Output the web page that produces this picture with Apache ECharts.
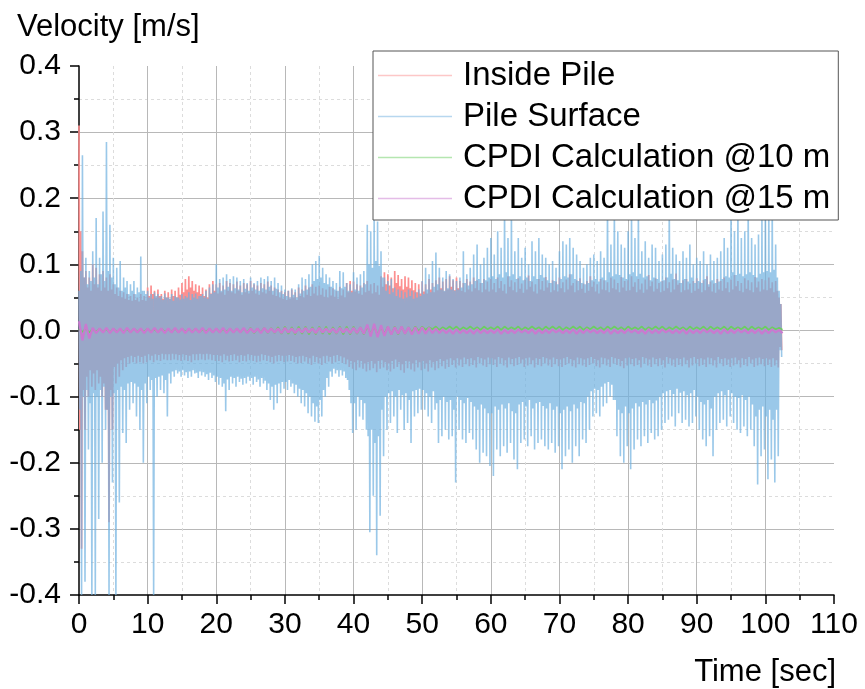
<!DOCTYPE html>
<html>
<head>
<meta charset="utf-8">
<script src="https://cdn.jsdelivr.net/npm/echarts@6/dist/echarts.min.js"></script>
<style>
  html, body { margin: 0; padding: 0; background: #fff; }
  #container1 { width: 865px; height: 689px; }
</style>
</head>
<body>
<div id="container1"></div>
<script>
// velocities in mm/s, read per half second window:
// peak = tallest spike in the window, band = edge of the dense part of the trace
var STEP = 0.5;
var surfacePeakHi = [
  60,265,110,90,120,170,110,180,285,160, 110,95,105,80,75,70,75,65,112,60,
  60,55,58,55,52,56,50,55,52,50, 55,52,58,55,56,52,55,60,65,70,
  100,78,80,85,78,82,80,75,78,72, 80,72,75,80,78,82,75,80,72,68,
  62,60,64,62,70,80,78,85,100,105, 113,95,85,80,75,72,90,88,72,70,
  88,80,85,90,160,150,168,165,120,80, 75,78,65,62,60,58,62,60,58,62,
  75,95,85,105,118,95,80,90,85,78, 75,80,120,85,95,115,130,100,110,125,
  140,115,150,125,190,140,185,120,140,110, 125,100,135,120,140,115,110,100,105,95,
  120,135,130,140,125,115,105,95,100,110, 115,105,120,110,190,130,185,150,130,125,
  150,180,140,185,120,135,110,130,125,105, 115,130,190,125,115,105,120,110,130,100,
  110,105,120,100,115,105,110,120,140,125, 190,150,185,140,150,190,140,130,145,170,
  190,185,195,130,60
];
var surfacePeakLo = [
  -400,-380,-180,-400,-400,-285,-200,-150,-400,-230, -400,-260,-155,-170,-120,-110,-130,-150,-200,-110,
  -90,-400,-100,-90,-95,-130,-80,-70,-65,-70, -68,-72,-70,-65,-72,-68,-70,-75,-72,-78,
  -82,-85,-122,-90,-80,-85,-78,-82,-80,-76, -82,-78,-85,-80,-90,-105,-120,-110,-95,-88,
  -90,-85,-95,-100,-110,-115,-125,-130,-138,-140, -130,-100,-85,-70,-65,-70,-68,-72,-90,-155,
  -150,-130,-135,-150,-305,-250,-340,-280,-190,-150, -140,-130,-155,-120,-150,-140,-170,-130,-125,-120,
  -120,-130,-140,-120,-170,-160,-150,-165,-160,-230, -150,-165,-170,-155,-165,-180,-200,-185,-190,-205,
  -220,-180,-190,-175,-185,-170,-195,-210,-170,-165, -175,-160,-180,-170,-165,-175,-180,-170,-185,-175,
  -210,-190,-180,-200,-175,-190,-165,-170,-150,-130, -125,-130,-115,-110,-100,-105,-160,-190,-200,-175,
  -210,-180,-165,-175,-160,-170,-155,-165,-160,-150, -140,-135,-130,-145,-125,-140,-135,-145,-140,-130,
  -150,-165,-175,-160,-190,-150,-140,-135,-145,-130, -140,-150,-155,-145,-160,-150,-175,-233,-190,-180,
  -225,-195,-230,-190,-40
];
var surfaceBandHi = [
  90,80,70,75,80,70,85,75,90,80, 70,65,60,65,55,60,55,58,60,55,
  50,48,52,50,46,50,48,45,50,47, 48,50,46,50,48,52,50,48,55,58,
  65,60,62,66,60,64,62,58,63,60, 65,62,60,64,62,66,60,63,58,55,
  52,50,54,50,56,60,62,66,75,78, 80,72,70,66,62,60,64,66,60,58,
  62,60,65,70,100,95,105,98,80,60, 55,58,52,50,48,50,52,48,50,52,
  55,62,58,66,70,62,60,64,62,60, 62,65,72,68,70,75,78,72,76,80,
  82,78,85,80,88,82,85,78,82,76, 80,75,82,78,84,80,76,72,75,70,
  78,82,80,85,78,75,72,70,72,76, 78,74,80,76,88,82,85,84,80,78,
  85,88,82,86,80,82,76,80,78,74, 76,80,86,78,76,72,78,74,80,72,
  75,72,78,70,76,72,74,78,82,80, 88,84,86,82,85,88,84,80,86,88,
  90,88,92,80,40
];
var surfaceBandLo = [
  -120,-100,-90,-110,-95,-100,-90,-85,-120,-100, -95,-90,-85,-90,-80,-78,-80,-85,-90,-80,
  -70,-75,-72,-70,-68,-75,-65,-62,-60,-62, -60,-63,-62,-60,-64,-62,-63,-66,-64,-68,
  -70,-72,-80,-74,-70,-72,-70,-73,-72,-70, -72,-70,-74,-72,-76,-80,-85,-82,-80,-78,
  -78,-75,-80,-82,-88,-90,-95,-100,-110,-115, -105,-90,-72,-62,-58,-60,-60,-62,-75,-110,
  -110,-100,-105,-110,-160,-150,-170,-160,-120,-100, -95,-92,-100,-90,-98,-95,-105,-92,-90,-88,
  -90,-95,-100,-92,-110,-105,-100,-108,-105,-120, -100,-105,-110,-102,-108,-115,-120,-112,-118,-125,
  -125,-115,-120,-112,-118,-110,-122,-125,-112,-108, -115,-105,-118,-110,-108,-114,-118,-110,-120,-115,
  -125,-120,-115,-122,-112,-118,-108,-110,-100,-92, -88,-90,-85,-80,-78,-82,-105,-120,-125,-115,
  -125,-118,-110,-115,-108,-112,-105,-110,-106,-100, -95,-92,-90,-96,-88,-94,-92,-98,-95,-90,
  -100,-108,-112,-105,-118,-100,-95,-92,-98,-90, -95,-100,-102,-98,-105,-100,-112,-130,-120,-115,
  -130,-120,-135,-120,-30
];
var insidePeakHi = [
  310,120,90,80,100,95,85,90,80,85, 70,65,60,58,55,52,55,50,55,52,
  65,68,60,62,55,60,58,62,60,65, 72,78,82,75,70,68,65,62,70,75,
  70,72,68,75,72,70,74,68,72,70, 75,70,68,72,70,74,68,65,62,60,
  58,60,62,58,65,62,68,65,70,66, 68,64,62,66,64,60,66,62,72,75,
  74,70,68,72,75,70,72,68,82,88, 85,80,90,84,78,82,80,76,72,70,
  74,70,78,72,76,80,74,78,82,76, 80,75,72,78,74,80,76,72,78,74,
  78,72,80,75,70,82,76,73,79,71, 77,83,74,70,78,75,81,72,76,74,
  80,73,77,85,72,76,79,71,75,82, 74,70,78,76,73,80,77,72,81,75,
  76,82,73,78,71,77,84,74,79,72, 75,80,73,77,86,72,76,78,71,75,
  79,73,76,82,74,71,78,75,80,73, 77,84,75,72,79,76,73,81,74,78,
  76,80,73,75,50
];
var insidePeakLo = [
  -330,-150,-100,-85,-90,-80,-100,-120,-290,-150, -80,-70,-60,-55,-50,-48,-50,-48,-50,-48,
  -45,-48,-45,-46,-44,-45,-45,-44,-45,-46, -45,-46,-48,-45,-45,-44,-45,-44,-45,-46,
  -46,-48,-45,-47,-46,-45,-48,-46,-47,-45, -46,-48,-47,-45,-46,-48,-50,-47,-46,-48,
  -47,-46,-48,-50,-49,-47,-50,-52,-48,-50, -52,-49,-47,-50,-48,-46,-49,-51,-55,-58,
  -60,-56,-58,-62,-60,-57,-63,-58,-56,-60, -62,-58,-55,-60,-64,-57,-59,-62,-56,-60,
  -58,-62,-56,-60,-57,-54,-58,-55,-52,-56, -53,-55,-51,-54,-52,-56,-50,-53,-55,-51,
  -52,-55,-50,-53,-56,-51,-54,-52,-50,-55, -53,-51,-56,-52,-54,-50,-53,-55,-51,-54,
  -55,-52,-50,-54,-56,-51,-53,-55,-52,-50, -54,-56,-51,-53,-55,-50,-52,-54,-57,-53,
  -51,-54,-52,-56,-50,-53,-55,-51,-54,-52, -56,-50,-53,-55,-52,-54,-51,-56,-53,-50,
  -54,-52,-55,-51,-53,-56,-50,-54,-52,-55, -53,-51,-56,-52,-54,-50,-55,-53,-51,-54,
  -52,-55,-53,-56,-30
];
var insideBandHi = [
  150,80,65,60,70,65,60,65,60,62, 55,52,50,48,46,45,46,44,46,45,
  52,55,50,52,48,50,48,52,50,54, 58,62,65,60,58,55,52,50,56,60,
  56,58,54,60,58,56,60,54,58,56, 60,56,54,58,56,60,54,52,50,48,
  46,48,50,46,52,50,54,52,56,53, 54,51,50,53,51,48,53,50,58,60,
  59,56,54,58,60,56,58,54,66,70, 68,64,72,67,62,66,64,61,58,56,
  59,56,62,58,61,64,59,62,66,61, 64,60,58,62,59,64,61,58,62,59,
  62,58,64,60,56,66,61,58,63,57, 62,66,59,56,62,60,65,58,61,59,
  64,58,62,68,58,61,63,57,60,66, 59,56,62,61,58,64,62,58,65,60,
  61,66,58,62,57,62,67,59,63,58, 60,64,58,62,69,58,61,62,57,60,
  63,58,61,66,59,57,62,60,64,58, 62,67,60,58,63,61,58,65,59,62,
  61,64,58,60,40
];
var insideBandLo = [
  -150,-90,-70,-60,-65,-60,-70,-80,-120,-90, -55,-50,-45,-42,-40,-38,-40,-38,-40,-38,
  -36,-38,-36,-37,-35,-36,-36,-35,-36,-37, -36,-37,-38,-36,-36,-35,-36,-35,-36,-37,
  -37,-38,-36,-38,-37,-36,-38,-37,-38,-36, -37,-38,-38,-36,-37,-38,-40,-38,-37,-38,
  -38,-37,-38,-40,-39,-38,-40,-42,-38,-40, -42,-39,-38,-40,-38,-37,-39,-41,-44,-46,
  -48,-45,-46,-50,-48,-46,-50,-46,-45,-48, -50,-46,-44,-48,-51,-46,-47,-50,-45,-48,
  -46,-50,-45,-48,-46,-43,-46,-44,-42,-45, -42,-44,-41,-43,-42,-45,-40,-42,-44,-41,
  -42,-44,-40,-42,-45,-41,-43,-42,-40,-44, -42,-41,-45,-42,-43,-40,-42,-44,-41,-43,
  -44,-42,-40,-43,-45,-41,-42,-44,-42,-40, -43,-45,-41,-42,-44,-40,-42,-43,-46,-42,
  -41,-43,-42,-45,-40,-42,-44,-41,-43,-42, -45,-40,-42,-44,-42,-43,-41,-45,-42,-40,
  -43,-42,-44,-41,-42,-45,-40,-43,-42,-44, -42,-41,-45,-42,-43,-40,-44,-42,-41,-43,
  -42,-44,-42,-45,-25
];

// CPDI results in mm/s, peaks read per second (hi at t, lo at t + 0.5 s)
var CPDI_STEP = 1;
var cpdi10Hi = [
  2,3,2,3,2,3,2,2,3,2, 3,2,3,2,3,3,2,3,2,3,
  3,2,3,3,3,4,3,4,4,5, 6,5,6,6,5,6,6,5,6,6,
  6,5,6,6,5,6,6,6,5,6, 6,5,6,5,6,6,5,6,5,6,
  5,6,6,5,6,5,6,5,6,6, 6,5,6,6,5,6,5,6,6,5,
  6,5,6,5,6,6,5,6,5,6, 5,6,6,5,6,6,5,6,6,5,
  6,5,4
];
var cpdi10Lo = [
  -2,-3,-2,-2,-3,-2,-2,-3,-2,-2, -2,-3,-2,-2,-3,-2,-2,-3,-2,-3,
  -3,-2,-3,-3,-3,-4,-3,-4,-4,-5, -5,-6,-5,-6,-6,-5,-6,-5,-6,-6,
  -5,-6,-5,-6,-5,-6,-6,-5,-3,-1, 1,2,1,2,2,1,2,2,1,2,
  2,1,2,2,1,2,2,1,2,2, 1,2,2,1,2,2,1,2,2,1,
  2,2,1,2,2,1,2,2,1,2, 2,1,2,2,1,2,2,1,2,2,
  1,2,1
];
var cpdi15Hi = [
  14,10,4,3,4,3,3,4,3,3, 3,4,3,3,4,3,3,3,4,3,
  3,4,3,3,4,3,3,4,3,3, 4,3,3,4,3,4,3,3,4,3,
  4,5,9,10,8,6,5,6,5,5, 5,4,3,2,1,2,1,1,2,1,
  1,2,1,1,2,1,2,1,1,2, 1,1,2,1,2,1,1,2,1,1,
  2,1,1,2,1,2,1,1,2,1, 1,2,1,1,2,1,2,1,1,2,
  1,2,1
];
var cpdi15Lo = [
  -15,-12,-4,-3,-4,-3,-4,-3,-3,-4, -3,-3,-4,-3,-3,-4,-3,-3,-4,-3,
  -3,-4,-3,-3,-4,-3,-4,-3,-3,-4, -3,-4,-3,-3,-4,-3,-3,-4,-3,-4,
  -4,-5,-9,-10,-8,-6,-5,-5,-6,-5, -5,-4,-4,-4,-5,-4,-4,-5,-4,-4,
  -4,-5,-4,-4,-3,-4,-5,-4,-4,-3, -4,-4,-5,-4,-3,-4,-4,-5,-4,-4,
  -3,-4,-5,-4,-4,-3,-4,-4,-5,-4, -4,-3,-4,-5,-4,-4,-3,-4,-4,-5,
  -4,-3,-4
];

var xTicks = { min: 0, max: 110, interval: 10 };
var yTicks = { min: -0.4, max: 0.4, interval: 0.1 };

// one window: spike up, dense low edge, dense high edge, spike down
function trace(peakHi, bandLo, bandHi, peakLo, step) {
    var pts = [];
    for (var i = 0; i < peakHi.length; i++) {
        var t = i * step;
        pts.push([t, peakHi[i] / 1000]);
        pts.push([t + step / 4, bandLo[i] / 1000]);
        pts.push([t + step / 2, bandHi[i] / 1000]);
        pts.push([t + step * 3 / 4, peakLo[i] / 1000]);
    }
    return pts;
}

function zigzag(hi, lo, step) {
    var pts = [];
    for (var i = 0; i < hi.length; i++) {
        pts.push([i * step, hi[i] / 1000]);
        pts.push([i * step + step / 2, lo[i] / 1000]);
    }
    return pts;
}

var font = 'Liberation Sans, Arial, sans-serif';
var axisBlack = { color: '#000', width: 1.5 };

var dom = document.getElementById("container1");
var myChart = echarts.init(dom);
var option = {
    animation: false,
    backgroundColor: '#fff',
    title: [
        { text: 'Velocity [m/s]', left: 12, top: 7,
          textStyle: { fontFamily: font, fontSize: 31, fontWeight: 'normal', color: '#000' } },
        { text: 'Time [sec]', right: 24, top: 652,
          textStyle: { fontFamily: font, fontSize: 31, fontWeight: 'normal', color: '#000' } }
    ],
    legend: {
        orient: 'vertical',
        left: 373,
        top: 51,
        padding: [8, 8, 5, 5],
        itemGap: 8,
        itemWidth: 74,
        itemHeight: 1.5,
        icon: 'rect',
        backgroundColor: '#fff',
        borderColor: '#555',
        borderWidth: 1,
        borderRadius: 0,
        itemStyle: { opacity: 0.5 },
        textStyle: { fontFamily: font, fontSize: 33, lineHeight: 33, color: '#000', padding: [0, 0, 0, 6] },
        data: ['Inside Pile', 'Pile Surface', 'CPDI Calculation @10 m', 'CPDI Calculation @15 m']
    },
    grid: { left: 79, right: 31, top: 66, bottom: 94, containLabel: false },
    xAxis: {
        type: 'value',
        min: xTicks.min, max: xTicks.max, interval: xTicks.interval,
        axisLine: { show: true, onZero: false, lineStyle: axisBlack },
        axisTick: { show: true, inside: false, length: 9, lineStyle: axisBlack },
        minorTick: { show: true, splitNumber: 2, length: 5, lineStyle: axisBlack },
        axisLabel: { fontFamily: font, fontSize: 30, color: '#000', margin: 15 },
        splitLine: { show: true, showMinLine: false, showMaxLine: false, lineStyle: { color: '#b8b8b8', width: 1 } },
        minorSplitLine: { show: true, lineStyle: { color: '#dcdcdc', width: 1, type: [3, 3] } }
    },
    yAxis: {
        type: 'value',
        min: yTicks.min, max: yTicks.max, interval: yTicks.interval,
        axisLine: { show: true, lineStyle: axisBlack },
        axisTick: { show: true, inside: false, length: 9, lineStyle: axisBlack },
        minorTick: { show: true, splitNumber: 2, length: 5, lineStyle: axisBlack },
        axisLabel: { fontFamily: font, fontSize: 30, color: '#000', margin: 18,
                     formatter: function (v) { return v.toFixed(1); } },
        splitLine: { show: true, showMinLine: false, showMaxLine: false, lineStyle: { color: '#b8b8b8', width: 1 } },
        minorSplitLine: { show: true, lineStyle: { color: '#dcdcdc', width: 1, type: [3, 3] } }
    },
    series: [
        {
            name: 'Inside Pile',
            type: 'line',
            symbol: 'none',
            data: trace(insidePeakHi, insideBandLo, insideBandHi, insidePeakLo, STEP),
            itemStyle: { color: '#fc9090' },
            lineStyle: { color: '#fc9090', width: 1.7 }
        },
        {
            name: 'Pile Surface',
            type: 'line',
            symbol: 'none',
            data: trace(surfacePeakHi, surfaceBandLo, surfaceBandHi, surfacePeakLo, STEP),
            itemStyle: { color: '#6fb0e0' },
            lineStyle: { color: '#6fb0e0', width: 1.6, opacity: 0.7 }
        },
        {
            name: 'CPDI Calculation @10 m',
            type: 'line',
            symbol: 'none',
            data: zigzag(cpdi10Hi, cpdi10Lo, CPDI_STEP),
            itemStyle: { color: '#6ccd62' },
            lineStyle: { color: '#6ccd62', width: 1.7 }
        },
        {
            name: 'CPDI Calculation @15 m',
            type: 'line',
            symbol: 'none',
            data: zigzag(cpdi15Hi, cpdi15Lo, CPDI_STEP),
            itemStyle: { color: '#c97acf' },
            lineStyle: { color: '#c97acf', width: 2.2 }
        }
    ]
};
myChart.setOption(option);
</script>
</body>
</html>
